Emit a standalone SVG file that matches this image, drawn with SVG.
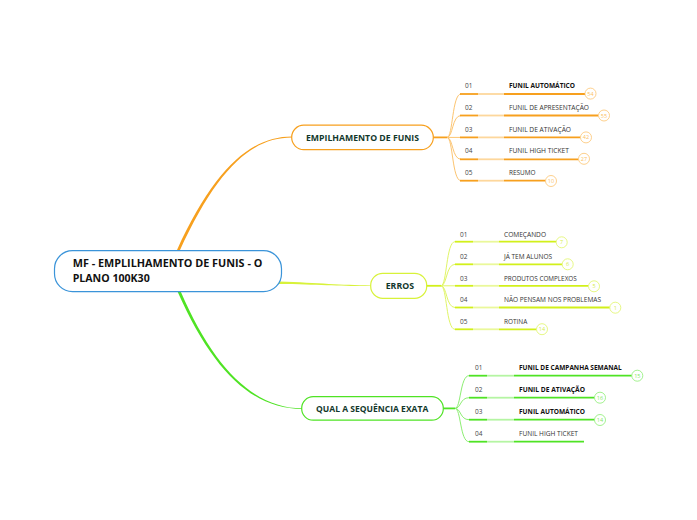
<svg xmlns="http://www.w3.org/2000/svg" width="697" height="520" viewBox="0 0 697 520">
<style>
text{font-family:"Open Sans","Noto Sans","Liberation Sans",sans-serif}
.root{font-size:10px;font-weight:bold;fill:#111}
.bn{font-size:8.5px;font-weight:bold;fill:#12382c}
.num{font-size:6.5px;fill:#444}
.lbl{font-size:6.5px;fill:#333}
.b{font-weight:bold;fill:#111}
.bt{font-size:5.5px;text-anchor:middle}
.o .d{stroke:#f7a01e;stroke-width:1.8;fill:none}
.o .l{stroke:#fdd79c;stroke-width:1.8;fill:none}
.o .f{stroke:#fcc470;stroke-width:1;fill:none}
.o circle{fill:#fff;stroke:#fcc470;stroke-width:0.8}
.o .bt{fill:#fbbf63}
.y .d{stroke:#d2f01a;stroke-width:1.8;fill:none}
.y .l{stroke:#eaf89a;stroke-width:1.8;fill:none}
.y .f{stroke:#e0f566;stroke-width:1;fill:none}
.y circle{fill:#fff;stroke:#e0f566;stroke-width:0.8}
.y .bt{fill:#d4ec4a}
.g .d{stroke:#4fe324;stroke-width:1.8;fill:none}
.g .l{stroke:#b5f5a3;stroke-width:1.8;fill:none}
.g .f{stroke:#8cee72;stroke-width:1;fill:none}
.g circle{fill:#fff;stroke:#8cee72;stroke-width:0.8}
.g .bt{fill:#7fe762}
</style>
<rect width="697" height="520" fill="#fff"/>
<g id="connectors">
<path d="M176.8,250.5 C213.5,170 250,136.4 292,136.4 L292,137.6 C250,137.6 216.5,171 179.8,250.5 Z" fill="#f7a01e"/>
<path d="M279,281.6 C320,283 340,285.3 371,285.4 L371,286.1 C340,286.3 320,284.5 279,284 Z" fill="#d8f23a"/>
<path d="M177.5,291.5 C213,372 253,409 302,409 L302,408.2 C255,408.2 214.5,370 180.7,291.5 Z" fill="#4fe324"/>
</g>
<g id="root">
<rect x="54.5" y="250.7" width="227" height="41" rx="18" fill="#fff" stroke="#3b94d9" stroke-width="1.2"/>
<text class="root" x="72.7" y="266.7" textLength="189.6" lengthAdjust="spacingAndGlyphs">MF - EMPLILHAMENTO DE FUNIS - O</text>
<text class="root" x="72.7" y="282.3" textLength="77" lengthAdjust="spacingAndGlyphs">PLANO 100K30</text>
</g>
<g id="branch-empilhamento" class="o">
<rect x="291.7" y="125.2" width="141.6" height="24.4" rx="12" fill="#fff" stroke="#f7a01e" stroke-width="1.2"/>
<text class="bn" x="306" y="140.8" textLength="113" lengthAdjust="spacingAndGlyphs">EMPILHAMENTO DE FUNIS</text>
<path class="d" d="M433.3,137.4 H447" stroke-width="1.2"/>
<path class="f" d="M447,137.4 C453,137.4 452,94 461,94 M447,137.4 C453,137.4 452,115.5 461,115.5 M447,137.4 H461 M447,137.4 C453,137.4 452,159.3 461,159.3 M447,137.4 C453,137.4 452,180.7 461,180.7"/>
</g>
<g id="o1" class="o"><path class="d" d="M460,94 H478"/><path class="l" d="M478,94 H504"/><path class="d" d="M504,94 H585"/><circle cx="590.5" cy="93.6" r="5.5"/><text class="bt" x="590.5" y="95.6">54</text><text class="num" x="465" y="88">01</text><text class="lbl b" x="509" y="88" textLength="66" lengthAdjust="spacingAndGlyphs">FUNIL AUTOMÁTICO</text></g>
<g id="o2" class="o"><path class="d" d="M460,115.5 H478"/><path class="l" d="M478,115.5 H504"/><path class="d" d="M504,115.5 H598.5"/><circle cx="604" cy="115.5" r="5.5"/><text class="bt" x="604" y="117.5">55</text><text class="num" x="465" y="109.5">02</text><text class="lbl" x="509" y="109.5" textLength="80" lengthAdjust="spacingAndGlyphs">FUNIL DE APRESENTAÇÃO</text></g>
<g id="o3" class="o"><path class="d" d="M460,137.4 H478"/><path class="l" d="M478,137.4 H504"/><path class="d" d="M504,137.4 H580.5"/><circle cx="586" cy="137.4" r="5.5"/><text class="bt" x="586" y="139.4">42</text><text class="num" x="465" y="131.5">03</text><text class="lbl" x="509" y="131.5" textLength="62" lengthAdjust="spacingAndGlyphs">FUNIL DE ATIVAÇÃO</text></g>
<g id="o4" class="o"><path class="d" d="M460,159.3 H478"/><path class="l" d="M478,159.3 H504"/><path class="d" d="M504,159.3 H578.5"/><circle cx="584" cy="158.8" r="5.5"/><text class="bt" x="584" y="160.8">27</text><text class="num" x="465" y="153.3">04</text><text class="lbl" x="509" y="153.3" textLength="60" lengthAdjust="spacingAndGlyphs">FUNIL HIGH TICKET</text></g>
<g id="o5" class="o"><path class="d" d="M460,180.7 H478"/><path class="l" d="M478,180.7 H504"/><path class="d" d="M504,180.7 H545.5"/><circle cx="551" cy="181" r="5.5"/><text class="bt" x="551" y="183">10</text><text class="num" x="465" y="174.7">05</text><text class="lbl" x="509" y="174.7" textLength="26.5" lengthAdjust="spacingAndGlyphs">RESUMO</text></g>
<g id="branch-erros" class="y">
<rect x="370.7" y="273.3" width="56" height="25" rx="12" fill="#fff" stroke="#d8f23a" stroke-width="1.2"/>
<text class="bn" x="385.7" y="288.8" textLength="28.3" lengthAdjust="spacingAndGlyphs">ERROS</text>
<path class="d" d="M426.7,285.8 H441" stroke-width="1.2"/>
<path class="f" d="M441,285.8 C447,285.8 446,241.7 455,241.7 M441,285.8 C447,285.8 446,264.3 455,264.3 M441,285.8 H455 M441,285.8 C447,285.8 446,307.5 455,307.5 M441,285.8 C447,285.8 446,329.3 455,329.3"/>
</g>
<g id="e1" class="y"><path class="d" d="M455,241.7 H473"/><path class="l" d="M473,241.7 H499"/><path class="d" d="M499,241.7 H556.2"/><circle cx="561.7" cy="242.3" r="5.5"/><text class="bt" x="561.7" y="244.3">7</text><text class="num" x="460" y="236.5">01</text><text class="lbl" x="504" y="236.5" textLength="42" lengthAdjust="spacingAndGlyphs">COMEÇANDO</text></g>
<g id="e2" class="y"><path class="d" d="M455,264.3 H473"/><path class="l" d="M473,264.3 H499"/><path class="d" d="M499,264.3 H562.2"/><circle cx="567.7" cy="264.3" r="5.5"/><text class="bt" x="567.7" y="266.3">6</text><text class="num" x="460" y="258.5">02</text><text class="lbl" x="504" y="258.5" textLength="48" lengthAdjust="spacingAndGlyphs">JÁ TEM ALUNOS</text></g>
<g id="e3" class="y"><path class="d" d="M455,285.8 H473"/><path class="l" d="M473,285.8 H499"/><path class="d" d="M499,285.8 H588.5"/><circle cx="594" cy="286.3" r="5.5"/><text class="bt" x="594" y="288.3">5</text><text class="num" x="460" y="280.5">03</text><text class="lbl" x="504" y="280.5" textLength="72.7" lengthAdjust="spacingAndGlyphs">PRODUTOS COMPLEXOS</text></g>
<g id="e4" class="y"><path class="d" d="M455,307.5 H473"/><path class="l" d="M473,307.5 H499"/><path class="d" d="M499,307.5 H609.8"/><circle cx="615.3" cy="307.7" r="5.5"/><text class="bt" x="615.3" y="309.7">1</text><text class="num" x="460" y="302">04</text><text class="lbl" x="504" y="302" textLength="97" lengthAdjust="spacingAndGlyphs">NÃO PENSAM NOS PROBLEMAS</text></g>
<g id="e5" class="y"><path class="d" d="M455,329.3 H473"/><path class="l" d="M473,329.3 H499"/><path class="d" d="M499,329.3 H536.5"/><circle cx="542" cy="329.2" r="5.5"/><text class="bt" x="542" y="331.2">14</text><text class="num" x="460" y="323.5">05</text><text class="lbl" x="504" y="323.5" textLength="23.3" lengthAdjust="spacingAndGlyphs">ROTINA</text></g>
<g id="branch-qual" class="g">
<rect x="301.7" y="396.7" width="141.6" height="23.5" rx="11.5" fill="#fff" stroke="#4fe324" stroke-width="1.2"/>
<text class="bn" x="316" y="411.7" textLength="112.3" lengthAdjust="spacingAndGlyphs">QUAL A SEQUÊNCIA EXATA</text>
<path class="d" d="M443.3,408.4 H455" stroke-width="1.2"/>
<path class="f" d="M455,408.4 C461,408.4 460,375.7 469,375.7 M455,408.4 C461,408.4 460,397.7 469,397.7 M455,408.4 C461,408.4 460,419.7 469,419.7 M455,408.4 C461,408.4 460,441.7 469,441.7"/>
</g>
<g id="q1" class="g"><path class="d" d="M469,375.7 H487"/><path class="l" d="M487,375.7 H514"/><path class="d" d="M514,375.7 H631.8"/><circle cx="637.3" cy="375.7" r="5.5"/><text class="bt" x="637.3" y="377.7">15</text><text class="num" x="475" y="369.8">01</text><text class="lbl b" x="519" y="369.8" textLength="102.7" lengthAdjust="spacingAndGlyphs">FUNIL DE CAMPANHA SEMANAL</text></g>
<g id="q2" class="g"><path class="d" d="M469,397.7 H487"/><path class="l" d="M487,397.7 H514"/><path class="d" d="M514,397.7 H594.5"/><circle cx="600" cy="397.7" r="5.5"/><text class="bt" x="600" y="399.7">16</text><text class="num" x="475" y="391.8">02</text><text class="lbl b" x="519" y="391.8" textLength="66" lengthAdjust="spacingAndGlyphs">FUNIL DE ATIVAÇÃO</text></g>
<g id="q3" class="g"><path class="d" d="M469,419.7 H487"/><path class="l" d="M487,419.7 H514"/><path class="d" d="M514,419.7 H594.5"/><circle cx="600" cy="420" r="5.5"/><text class="bt" x="600" y="422">14</text><text class="num" x="475" y="413.8">03</text><text class="lbl b" x="519" y="413.8" textLength="66" lengthAdjust="spacingAndGlyphs">FUNIL AUTOMÁTICO</text></g>
<g id="q4" class="g"><path class="d" d="M469,441.7 H487"/><path class="l" d="M487,441.7 H514"/><path class="d" d="M514,441.7 H584"/><text class="num" x="475" y="435.8">04</text><text class="lbl" x="519" y="435.8" textLength="59" lengthAdjust="spacingAndGlyphs">FUNIL HIGH TICKET</text></g>
</svg>
